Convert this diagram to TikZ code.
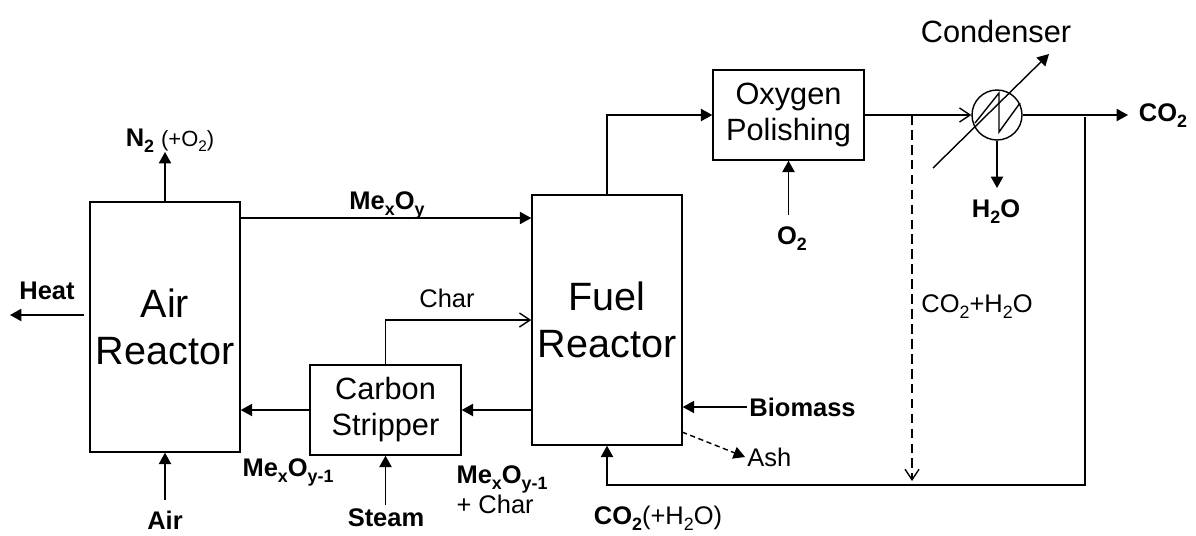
\documentclass[tikz,border=0pt]{standalone}
\usepackage{fontspec}
\setmainfont{Liberation Sans}
\usetikzlibrary{shapes, arrows.meta}
\newcommand{\chsub}[1]{\raisebox{-0.45ex}{\scalebox{0.7}{#1}}}

\begin{document}
\begin{tikzpicture}[x=0.02cm, y=-0.02cm, line width=0.8pt, >={Triangle[length=6.5pt, width=7pt]}]
  % Define styles
  \tikzstyle{reactor} = [rectangle, draw=black, minimum width=3cm, minimum height=5cm, align=center, font=\fontsize{22.5}{27}\selectfont]
  \tikzstyle{unit} = [rectangle, draw=black, minimum width=3.02cm, minimum height=1.8cm, align=center, font=\fontsize{17.5}{20.5}\selectfont]
  \tikzstyle{lbl} = [font=\fontsize{14.5}{16}\selectfont\bfseries, inner sep=1pt]
  \tikzstyle{txt} = [font=\fontsize{14.5}{16}\selectfont, inner sep=1pt]
  \tikzstyle{open} = [-{Straight Barb[length=6pt, width=8pt]}]

  \useasboundingbox (0,0) rectangle (1196,535);

  % Nodes
  \node[reactor] (air) at (165,327) {Air\\Reactor};
  \node[reactor] (fuel) at (607,320) {Fuel\\Reactor};
  \node[unit] (strip) at (385.5,410) {Carbon\\Stripper};
  \node[unit] (oxy) at (788.5,115) {Oxygen\\Polishing};
  \node[circle, draw=black, minimum size=1cm, inner sep=0pt] (cond) at (997,115) {};

  % Labels
  \node[lbl] (n2) at (170,141) {N\chsub{2} {\mdseries\fontsize{12.5}{14}\selectfont(+O\chsub{2})}};
  \node[lbl] (heat) at (47,291) {Heat};
  \node[lbl] (mexo) at (387,205) {Me\chsub{x}O\chsub{y}};
  \node[txt] (char) at (447,298) {Char};
  \node[lbl] (mexo1) at (288,472) {Me\chsub{x}O\chsub{y-1}};
  \node[txt, align=left] (mexo2) at (502,490) {\bfseries Me\chsub{x}O\chsub{y-1}\\+ Char};
  \node[lbl] (airlbl) at (165,520) {Air};
  \node[lbl] (steam) at (386,518) {Steam};
  \node[lbl] (co2rec) at (658,518) {CO\chsub{2}{\mdseries(+H\chsub{2}O)}};
  \node[lbl, anchor=west] (bio) at (747,407) {Biomass};
  \node[txt, anchor=west] (ash) at (745,457) {Ash};
  \node[lbl] (o2) at (792,239) {O\chsub{2}};
  \node[txt, font=\fontsize{17.5}{20}\selectfont] (condlbl) at (996,32) {Condenser};
  \node[lbl] (h2o) at (996,212) {H\chsub{2}O};
  \node[lbl] (co2) at (1163,116) {CO\chsub{2}};
  \node[txt] (flue) at (977,307) {CO\chsub{2}+H\chsub{2}O};

  % Free ends
  \coordinate (n2end) at (165,152);
  \coordinate (heatend) at (10,315);
  \coordinate (mexoA) at (240,218);
  \coordinate (airin) at (165,500);
  \coordinate (steamin) at (385.5,505);
  \coordinate (o2in) at (788.5,215);
  \coordinate (ashA) at (682,432);
  \coordinate (split) at (912,115);
  \coordinate (dashend) at (912,481);
  \coordinate (rectop) at (1085,117);
  \coordinate (recbot) at (1085,485);
  \coordinate (co2end) at (1128,115);
  \coordinate (h2oend) at (997,188);
  \coordinate (coolin) at (933,168);
  \coordinate (coolout) at (1049,54);

  % Arrows
  \draw[->] (air.north) -- (n2end);
  \draw[->, shorten <=2.8pt] (heatend -| air.west) -- (heatend);
  \draw[->] (mexoA) -- (mexoA -| fuel.west);
  \draw[open] (strip.north) |- (fuel.west);
  \draw[->] (strip.east -| fuel.west) -- (strip.east);
  \draw[->] (strip.west) -- (strip.west -| air.east);
  \draw[->] (steamin) -- (strip.south);
  \draw[->] (airin) -- (air.south);
  \draw[->] (fuel.north) |- (oxy.west);
  \draw[->] (o2in) -- (oxy.south);
  \draw[open] (oxy.east) -- (cond.west);
  \draw[->] (cond.east) -- (co2end);
  \draw[->] (cond.south) -- (h2oend);
  \draw[->] (coolin) -- (coolout);
  \draw ([shift={(-22,8)}]cond.center) -- ([shift={(2,-22)}]cond.center) -- ([shift={(2,17)}]cond.center) -- ([shift={(23,-12)}]cond.center);
  \draw[open, dash pattern=on 5.5pt off 3pt] (split) -- (dashend);
  \draw[->] (rectop) -- (recbot) -| (fuel.south);
  \draw[->] (bio.west) -- (bio.west -| fuel.east);
  \draw[->, dash pattern=on 3pt off 2pt] (ashA) -- (ash.west);
\end{tikzpicture}
\end{document}
